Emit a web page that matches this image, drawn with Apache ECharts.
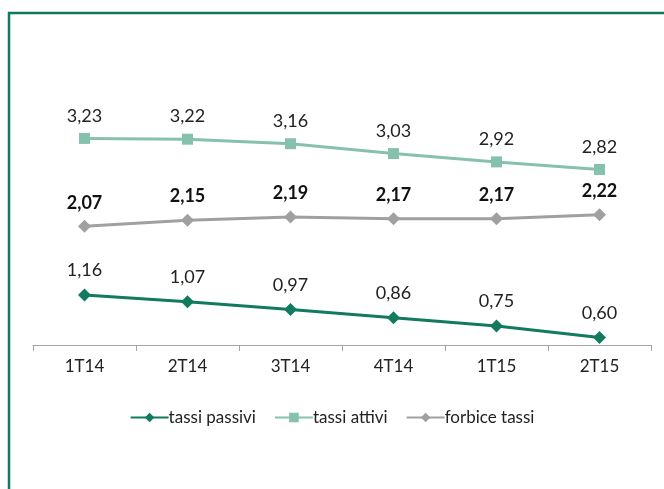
<!DOCTYPE html>
<html><head><meta charset="utf-8">
<script src="https://cdn.jsdelivr.net/npm/echarts@6/dist/echarts.min.js"></script>
<style>html,body{margin:0;padding:0;background:#fff}#c{width:664px;height:489px}</style>
</head><body><div id="c"></div>
<script>
const categories = ['1T14','2T14','3T14','4T14','1T15','2T15'];
const tassiPassivi = [1.16, 1.07, 0.97, 0.86, 0.75, 0.60];
const tassiAttivi = [3.23, 3.22, 3.16, 3.03, 2.92, 2.82];
const forbiceTassi = [2.07, 2.15, 2.19, 2.17, 2.17, 2.22];
const FONT = 'Lato';
const fmt = p => p.value.toFixed(2).replace('.', ',');
const chart = echarts.init(document.getElementById('c'), null, {renderer:'canvas'});
chart.setOption({
  animation:false,
  textStyle:{fontFamily:FONT},
  graphic:[{type:'polyline', shape:{points:[[9,489],[9,13],[664,13]]}, style:{stroke:'#0d7a60', lineWidth:2.5, fill:null}, z:100}],
  grid:{left:33, right:13, top:118, height:227},
  xAxis:{type:'category', data:categories, boundaryGap:true,
    axisLine:{lineStyle:{color:'#a6a6a6', width:1}},
    axisTick:{show:true, length:6, lineStyle:{color:'#a6a6a6'}},
    axisLabel:{color:'#222', fontSize:17, fontFamily:FONT, margin:13, letterSpacing:1}},
  yAxis:{type:'value', min:0.5, max:3.5, show:false, splitLine:{show:false}},
  legend:{top:404, left:'center', itemWidth:38, itemHeight:12, itemGap:18,
    textStyle:{fontSize:17, color:'#222', fontFamily:FONT, padding:[0,0,0,-5], letterSpacing:0.5},
    data:['tassi passivi','tassi attivi','forbice tassi']},
  series:[
    {name:'tassi passivi', type:'line', data:tassiPassivi, symbol:'diamond', symbolSize:13,
     lineStyle:{color:'#117a5f', width:3}, itemStyle:{color:'#117a5f'},
     label:{show:true, position:'top', distance:9, formatter:fmt, fontSize:18, color:'#222', fontFamily:FONT}, z:3},
    {name:'tassi attivi', type:'line', data:tassiAttivi, symbol:'rect', symbolSize:11,
     lineStyle:{color:'#86c1ae', width:3}, itemStyle:{color:'#86c1ae'},
     label:{show:true, position:'top', distance:8, formatter:fmt, fontSize:18, color:'#222', fontFamily:FONT}, z:2},
    {name:'forbice tassi', type:'line', data:forbiceTassi, symbol:'diamond', symbolSize:13,
     lineStyle:{color:'#a0a0a0', width:3}, itemStyle:{color:'#a0a0a0'},
     label:{show:true, position:'top', distance:8, formatter:fmt, fontSize:18, fontWeight:'bold', color:'#111', fontFamily:FONT}, z:2}
  ]
});
</script></body></html>
